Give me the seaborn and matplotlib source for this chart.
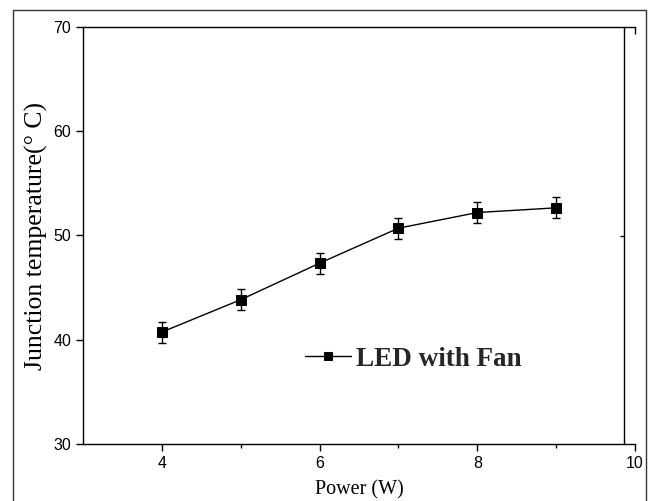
import numpy as np
import pandas as pd
import matplotlib
matplotlib.use("Agg")
import matplotlib.pyplot as plt
from matplotlib.patches import Rectangle
import seaborn as sns

# ---- data ----
power = [4, 5, 6, 7, 8, 9]
temperature = [40.75, 43.85, 47.35, 50.7, 52.2, 52.65]
temp_err = [1.0, 1.0, 1.0, 1.0, 1.0, 1.0]
series_label = "LED with Fan"
x_label = "Power (W)"
y_label = "Junction temperature(° C)"
x_ticks = [4, 6, 8, 10]
y_ticks = [30, 40, 50, 60, 70]

df = pd.DataFrame({"Power": power, "Temp": temperature})

sns.set_theme(style="ticks")
plt.rcParams["font.family"] = ["Liberation Sans", "DejaVu Sans"]

fig = plt.figure(figsize=(6.48, 5.01), dpi=100)
ax = fig.add_axes([83 / 648, 1 - 444.3 / 501, (635 - 83) / 648, (444.3 - 26.7) / 501])

ax.errorbar(power, temperature, yerr=temp_err, fmt="none", ecolor="black",
            elinewidth=1.0, capsize=3, capthick=1.0, zorder=2)
sns.lineplot(data=df, x="Power", y="Temp", ax=ax, color="black", linewidth=1.0,
             marker="s", markersize=7, markeredgecolor="black",
             markerfacecolor="black", label=series_label, zorder=3)

ax.set_xlim(3, 10)
ax.set_ylim(30, 70)
ax.set_xticks(x_ticks)
ax.set_xticklabels([str(t) for t in x_ticks])
ax.set_xticks([5, 7, 9], minor=True)
ax.set_yticks(y_ticks)
ax.set_yticklabels([str(t) for t in y_ticks])

for s in ["left", "bottom", "top"]:
    ax.spines[s].set_color("black")
    ax.spines[s].set_linewidth(1.0)
ax.spines["right"].set_visible(False)

ax.tick_params(axis="both", which="major", direction="out", length=5, width=1.0,
               color="black", labelsize=11.5, labelcolor="black", pad=3.5)
ax.tick_params(axis="x", which="minor", direction="out", length=3, width=1.0,
               color="black")
ax.tick_params(top=False, right=False)

# top tick at 10
secx = ax.secondary_xaxis("top")
secx.set_xticks([10])
secx.set_xticklabels([""])
secx.tick_params(direction="in", length=5, width=1.0, color="black")
secx.spines["top"].set_visible(False)

# inner right line with one tick at 50
secy = ax.secondary_yaxis((9.86 - 3) / 7)
secy.set_yticks([50])
secy.set_yticklabels([""])
secy.tick_params(direction="in", length=3, width=1.0, color="black")
for s in secy.spines.values():
    s.set_color("black")
    s.set_linewidth(1.0)

ax.set_xlabel(x_label, fontsize=14.5, family=["Liberation Serif"], color="black")
ax.set_ylabel(y_label, fontsize=18.5, family=["Liberation Serif"], color="black")
ax.xaxis.set_label_coords(0.5, -0.086)
ax.yaxis.set_label_coords(-0.063, 0.5)

leg = ax.legend(loc="center left", bbox_to_anchor=((305 - 83) / 552, (444.3 - 359) / 417.6),
                frameon=False, borderpad=0, borderaxespad=0, handlelength=1.7,
                handletextpad=0.2, markerscale=0.75,
                prop={"family": "Liberation Serif", "weight": "bold", "size": 19.5})

fig.add_artist(Rectangle((13 / 648, -0.1), (646 - 13) / 648, (501 - 10) / 501 + 0.1,
                         transform=fig.transFigure, fill=False, edgecolor="#333333",
                         linewidth=1.0))

fig.savefig("out.png", dpi=100, facecolor="white")
